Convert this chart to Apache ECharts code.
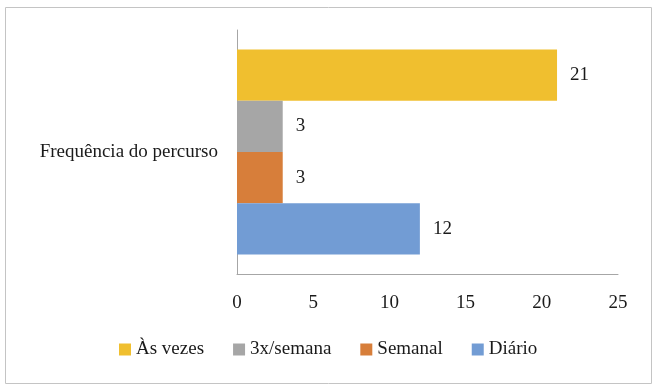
<!DOCTYPE html>
<html><head><meta charset="utf-8">
<script src="https://cdn.jsdelivr.net/npm/echarts@6/dist/echarts.min.js"></script>
<style>html,body{margin:0;padding:0;background:#fff}#c{width:659px;height:391px}</style>
</head><body><div id="c"></div>
<script>
const categories = ['Frequência do percurso'];
const seriesNames = ['Às vezes', '3x/semana', 'Semanal', 'Diário'];
const seriesValues = [[21], [3], [3], [12]];
const seriesColors = ['#F0BF2F', '#A6A6A6', '#D77E3A', '#729CD4'];
const legendOrder = ['Às vezes', '3x/semana', 'Semanal', 'Diário'];
const xTicks = { min: 0, max: 25, interval: 5 };

const FONT = 'Liberation Serif';
const FS = 19;
const chart = echarts.init(document.getElementById('c'));
chart.setOption({
  animation: false,
  textStyle: { fontFamily: FONT },
  graphic: [{ type: 'rect', shape: { x: 5.5, y: 7.5, width: 646, height: 376 },
    style: { fill: 'none', stroke: '#c4c4c4', lineWidth: 1 }, silent: true }],
  grid: { left: 237, right: 41, top: 30, bottom: 117 },
  legend: {
    data: legendOrder, top: 335, left: 114, itemWidth: 12, itemHeight: 12,
    itemGap: 29, icon: 'rect',
    textStyle: { fontFamily: FONT, fontSize: FS, color: '#1a1a1a' }
  },
  xAxis: {
    type: 'value', min: xTicks.min, max: xTicks.max, interval: xTicks.interval,
    splitLine: { show: false },
    axisLine: { show: true, lineStyle: { color: '#a6a6a6' } },
    axisTick: { show: false },
    axisLabel: { fontFamily: FONT, fontSize: FS, color: '#1a1a1a', margin: 20 }
  },
  yAxis: {
    type: 'category', data: categories,
    axisLine: { show: true, lineStyle: { color: '#a6a6a6' } },
    axisTick: { show: false },
    axisLabel: { fontFamily: FONT, fontSize: FS, color: '#1a1a1a', margin: 19 }
  },
  series: seriesNames.map((n, i) => ({
    name: n, type: 'bar', data: seriesValues[i],
    barGap: '0%', barCategoryGap: '16%',
    itemStyle: { color: seriesColors[i] },
    label: { show: true, position: 'right', distance: 13, fontFamily: FONT, fontSize: FS, color: '#1a1a1a' }
  }))
});
</script></body></html>
